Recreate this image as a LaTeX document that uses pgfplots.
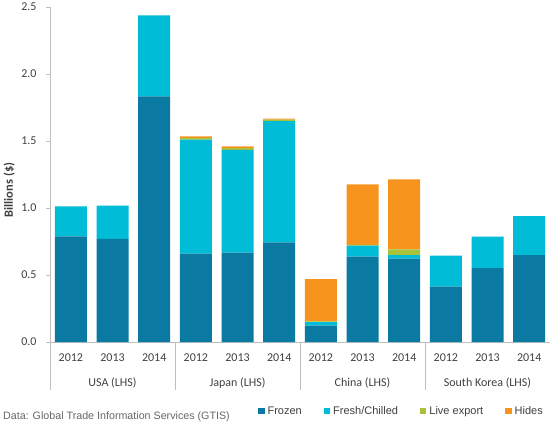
\documentclass[border=0pt]{standalone}
\usepackage{fontspec}
\setmainfont{Carlito}
\newfontfamily\arial{Liberation Sans}
\usepackage{pgfplots}
\pgfplotsset{compat=1.18}
\definecolor{cFrozen}{HTML}{0A7AA2}
\definecolor{cFresh}{HTML}{00BCD6}
\definecolor{cLive}{HTML}{A8C23A}
\definecolor{cHides}{HTML}{F7941E}
\definecolor{axgray}{HTML}{BFBFBF}
\definecolor{txt}{HTML}{404040}
\begin{document}
\begin{tikzpicture}
\path[use as bounding box] (0,0) rectangle (550bp,426bp);
\begin{axis}[
  at={(50bp,84bp)}, anchor=south west,
  scale only axis, width=500bp, height=335bp,
  xmin=-0.5, xmax=11.5, ymin=0, ymax=2.5,
  ybar stacked, bar width=32bp,
  clip=false,
  axis lines=left,
  axis line style={draw=axgray, line width=0.8bp, -},
  xtick={0,...,11},
  xticklabels={2012,2013,2014,2012,2013,2014,2012,2013,2014,2012,2013,2014},
  x tick style={draw=none},
  ytick={0,0.5,1,1.5,2,2.5},
  y tick style={draw=axgray, line width=0.8bp},
  tick align=outside,
  major tick length=4bp,
  /pgf/number format/fixed, /pgf/number format/fixed zerofill, /pgf/number format/precision=1, /pgf/number format/assume math mode=true,
  tick label style={font=\fontsize{12bp}{14bp}\selectfont, text=txt},
  xticklabel style={yshift=-4bp},
  yticklabel style={xshift=-6bp},
  ylabel={\textbf{Billions (\$)}},
  ylabel style={at={(axis description cs:-0.0814,0.4537)}, anchor=center, font=\fontsize{12.5bp}{14bp}\selectfont, text=txt},
  legend columns=4,
  legend style={at={(axis description cs:0.416,-0.206)}, anchor=west, draw=none, inner sep=0pt,
     font=\arial\fontsize{11bp}{13bp}\selectfont, text=txt,
     nodes={inner sep=1bp},
     /tikz/every odd column/.append style={column sep=2bp},
     /tikz/every even column/.append style={column sep=21bp}},
  legend image code/.code={\fill[#1] (0bp,-3.2bp) rectangle (6.4bp,3.2bp);},
]
\addplot[fill=cFrozen, draw=none] coordinates {(0,0.789) (1,0.769) (2,1.833) (3,0.659) (4,0.667) (5,0.744) (6,0.122) (7,0.637) (8,0.622) (9,0.413) (10,0.552) (11,0.649)};
\addplot[fill=cFresh, draw=none] coordinates {(0,0.223) (1,0.248) (2,0.605) (3,0.851) (4,0.766) (5,0.905) (6,0.027) (7,0.082) (8,0.027) (9,0.231) (10,0.234) (11,0.291)};
\addplot[fill=cLive, draw=none] coordinates {(0,0) (1,0) (2,0) (3,0.013) (4,0.014) (5,0.010) (6,0.005) (7,0.005) (8,0.043) (9,0) (10,0) (11,0)};
\addplot[fill=cHides, draw=none] coordinates {(0,0) (1,0) (2,0) (3,0.012) (4,0.013) (5,0.008) (6,0.316) (7,0.453) (8,0.522) (9,0) (10,0) (11,0)};
\legend{Frozen,Fresh/Chilled,Live export,Hides}
\draw[axgray, line width=0.8bp] (axis cs:-0.5,0) -- ([yshift=-48bp]axis cs:-0.5,0);
\draw[axgray, line width=0.8bp] (axis cs:2.5,0) -- ([yshift=-48bp]axis cs:2.5,0);
\draw[axgray, line width=0.8bp] (axis cs:5.5,0) -- ([yshift=-48bp]axis cs:5.5,0);
\draw[axgray, line width=0.8bp] (axis cs:8.5,0) -- ([yshift=-48bp]axis cs:8.5,0);
\node[font=\fontsize{12bp}{14bp}\selectfont, text=txt] at ([yshift=-41bp]axis cs:1,0) {USA (LHS)};
\node[font=\fontsize{12bp}{14bp}\selectfont, text=txt] at ([yshift=-41bp]axis cs:4,0) {Japan (LHS)};
\node[font=\fontsize{12bp}{14bp}\selectfont, text=txt] at ([yshift=-41bp]axis cs:7,0) {China (LHS)};
\node[font=\fontsize{12bp}{14bp}\selectfont, text=txt] at ([yshift=-41bp]axis cs:10,0) {South Korea (LHS)};
\end{axis}
\node[anchor=west, inner sep=0pt, font=\arial\fontsize{10.7bp}{12bp}\selectfont, text=black!60] at (3bp,9.5bp) {Data: Global Trade Information Services (GTIS)};
\end{tikzpicture}
\end{document}
